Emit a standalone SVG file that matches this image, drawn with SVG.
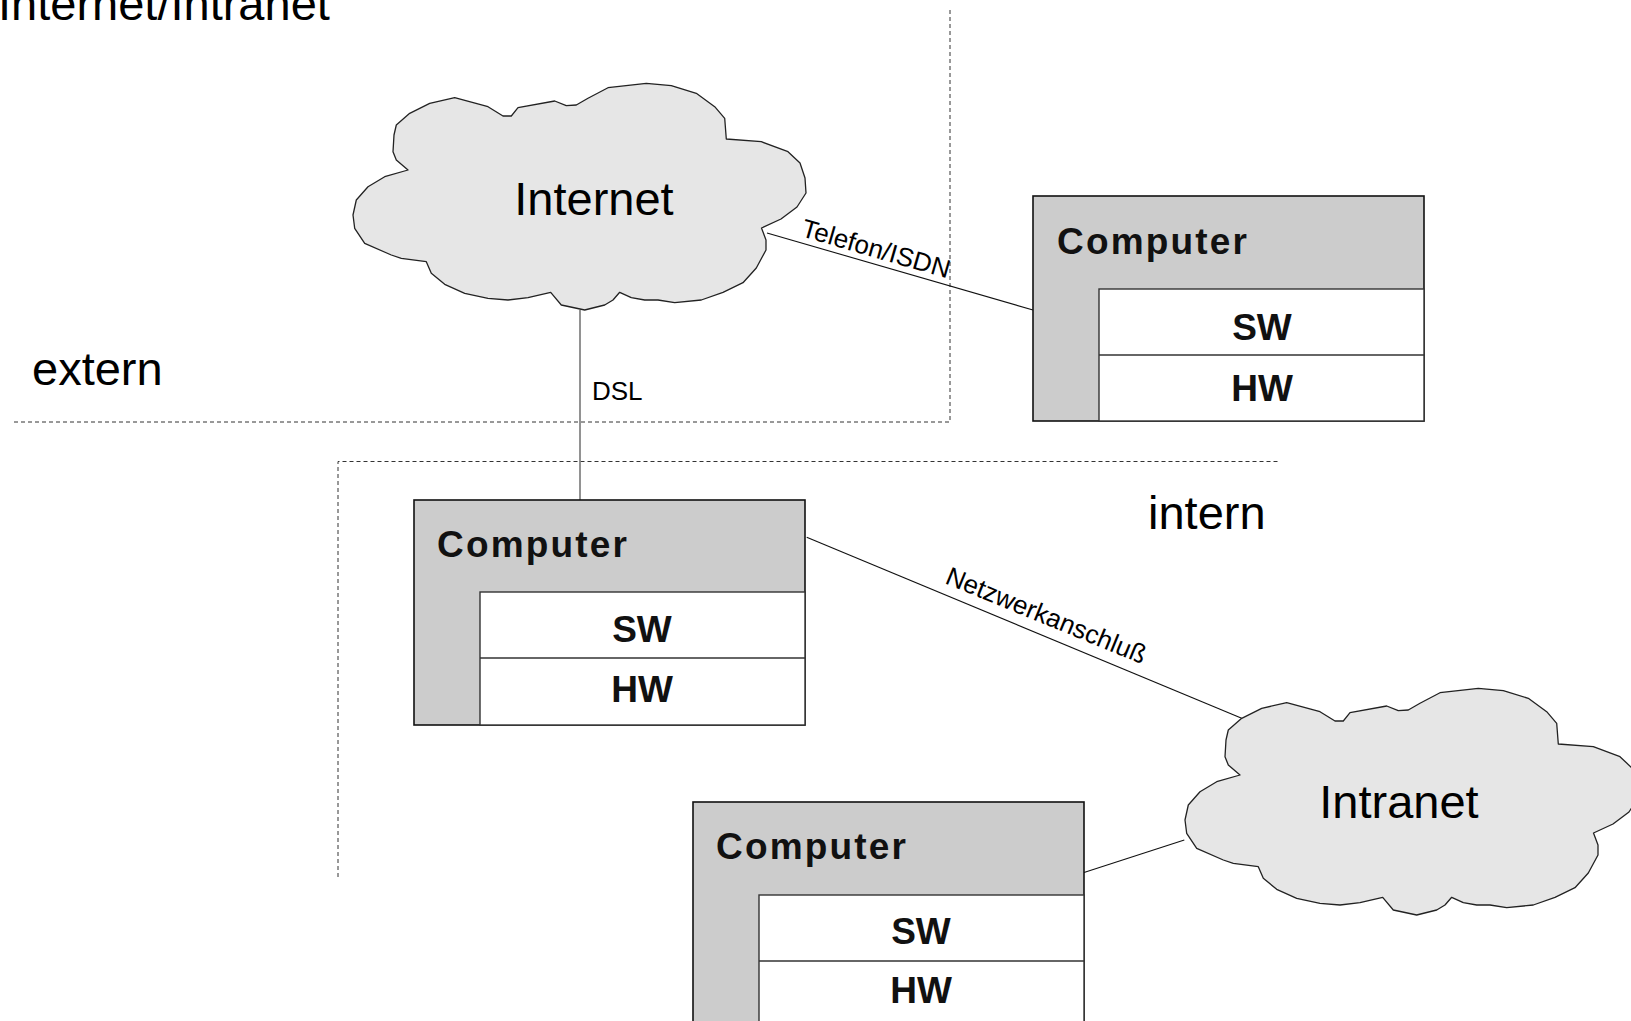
<svg xmlns="http://www.w3.org/2000/svg" width="1631" height="1021" viewBox="0 0 1631 1021">
<style>
.big{font-family:"Liberation Sans",Arial,sans-serif;font-size:47px;fill:#000}
.lbl{font-family:"Liberation Sans",Arial,sans-serif;font-size:26px;fill:#000}
.ttl{font-family:"Liberation Sans",Arial,sans-serif;font-size:37px;font-weight:bold;fill:#111}
.sh{font-family:"Liberation Sans",Arial,sans-serif;font-size:37px;font-weight:bold;fill:#111;text-anchor:middle}
.outer{fill:#cccccc;stroke:#111;stroke-width:1.6}
.inner{fill:#fff;stroke:#333;stroke-width:1.4}
.cloud{fill:#e6e6e6;stroke:#222;stroke-width:1.3;stroke-linejoin:round}
.zone{fill:none;stroke:#333;stroke-width:1;stroke-dasharray:4 3}
.wire{stroke:#111;stroke-width:1.1;fill:none}
</style>
<defs>
<path id="cloudShape" d="M409.7,113.3 L396.3,125 L394,135 L393,151.7 L396.3,160 L408,170 L384.7,176.7 L368,186.7 L356.3,200 L353,215 L354.7,228.3 L364.7,243.3 L391.3,255 L401.3,258.3 L426.3,261.7 L431.3,273.3 L444.7,284.3 L464.7,293.3 L488,298.3 L508,300 L528,297.7 L550.7,292.3 L561.3,305 L584.7,310 L604.7,305 L613,300 L619.7,292.3 L631.3,297.7 L644.7,300 L658,300 L674.7,302.7 L701.3,300 L723,292.3 L743,282.7 L756.3,268 L766,250 L766,240 L761.5,228 L781,219 L797,207 L806,193 L805,178 L800,163 L788,151.7 L761.3,141.7 L726.3,139 L724.7,118.3 L714.7,106.7 L696.3,93.3 L671.3,85.7 L646.3,83.3 L608,87.7 L588,98.3 L576.3,105 L566.3,105.7 L554.7,101 L518,107.7 L511.3,116 L503,116 L488,106.7 L454.7,97.7 L429.7,103.3 Z"/>
</defs>
<rect width="1631" height="1021" fill="#fff"/>
<g id="zones">
<path class="zone" d="M950,10 L950,422 L12,422"/>
<path class="zone" d="M338,877 L338,461.5 L1280,461.5"/>
<text class="big" x="-2" y="20">Internet/Intranet</text>
<text class="big" x="32" y="385">extern</text>
<text class="big" x="1148" y="529">intern</text>
</g>
<g id="connectors">
<line class="wire" x1="767" y1="233" x2="1033" y2="310"/>
<text class="lbl" transform="translate(800,236) rotate(16.1)">Telefon/ISDN</text>
<line x1="580" y1="310" x2="580" y2="500" stroke="#777" stroke-width="1.6"/>
<text class="lbl" x="592" y="400">DSL</text>
<line class="wire" x1="806.7" y1="537.3" x2="1241.7" y2="718.3"/>
<text class="lbl" transform="translate(944,583) rotate(22.3)">Netzwerkanschluß</text>
<line class="wire" x1="1084" y1="872.5" x2="1184.3" y2="840"/>
</g>
<g id="internet">
<use href="#cloudShape" class="cloud"/>
<text class="big" x="594" y="215" text-anchor="middle">Internet</text>
</g>
<g id="intranet">
<use href="#cloudShape" class="cloud" transform="translate(832,605)"/>
<text class="big" x="1399" y="818" text-anchor="middle">Intranet</text>
</g>
<g id="computer1">
<rect class="outer" x="1033" y="196" width="391" height="225"/>
<rect class="inner" x="1099" y="289" width="325" height="132"/>
<line class="inner" x1="1099" y1="355" x2="1424" y2="355"/>
<text class="ttl" x="1057" y="254" textLength="190" lengthAdjust="spacing">Computer</text>
<text class="sh" x="1262" y="340">SW</text>
<text class="sh" x="1262" y="401">HW</text>
</g>
<g id="computer2">
<rect class="outer" x="414" y="500" width="391" height="225"/>
<rect class="inner" x="480" y="592" width="325" height="133"/>
<line class="inner" x1="480" y1="658" x2="805" y2="658"/>
<text class="ttl" x="437" y="557" textLength="190" lengthAdjust="spacing">Computer</text>
<text class="sh" x="642" y="642">SW</text>
<text class="sh" x="642" y="702">HW</text>
</g>
<g id="computer3">
<rect class="outer" x="693" y="802" width="391" height="225"/>
<rect class="inner" x="759" y="895" width="325" height="132"/>
<line class="inner" x1="759" y1="961" x2="1084" y2="961"/>
<text class="ttl" x="716" y="859" textLength="190" lengthAdjust="spacing">Computer</text>
<text class="sh" x="921" y="944">SW</text>
<text class="sh" x="921" y="1003">HW</text>
</g>
</svg>
